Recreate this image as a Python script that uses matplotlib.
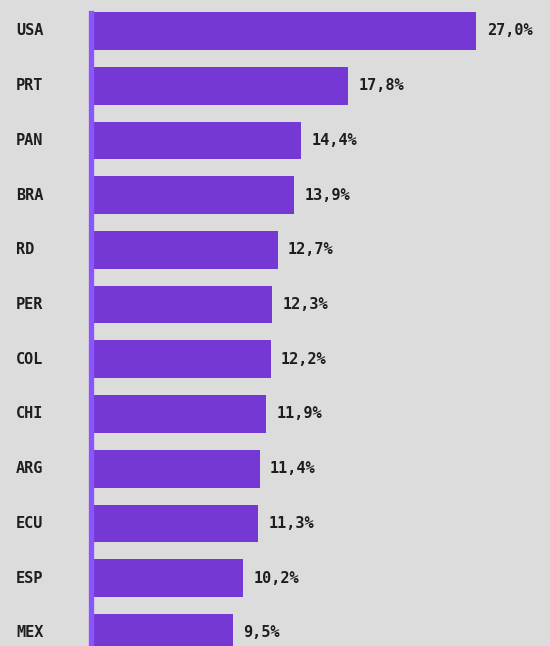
import numpy as np
import matplotlib.pyplot as plt

# Share values by country, top to bottom
countries = ["USA", "PRT", "PAN", "BRA", "RD", "PER", "COL", "CHI", "ARG", "ECU", "ESP", "MEX"]
shares = [27.0, 17.8, 14.4, 13.9, 12.7, 12.3, 12.2, 11.9, 11.4, 11.3, 10.2, 9.5]

BG = "#dcdcdc"
BAR = "#7538d4"
AXIS = "#8a55ff"
INK = "#1e1e1e"
BASE = -0.58  # bars start a little left of zero, at the axis line

fig = plt.figure(figsize=(5.5, 6.46), dpi=100, facecolor=BG)
ax = fig.add_axes([0, 0, 1, 1])
ax.set_facecolor(BG)

ypos = np.arange(len(countries))
ax.barh(ypos, np.array(shares) - BASE, left=BASE, height=0.69, color=BAR, zorder=2)

ax.set_xlim(-7.27, 32.3)
ax.set_ylim(11.24, -0.566)

ax.axvline(BASE - 0.17, ymin=0, ymax=0.98, color=AXIS, lw=3.8, zorder=3)

for y, name, v in zip(ypos, countries, shares):
    ax.text(0.029, y, name, transform=ax.get_yaxis_transform(), ha="left", va="center",
            fontsize=11, fontweight="bold", family="DejaVu Sans Mono", color=INK)
    ax.annotate(f"{v:.1f}".replace(".", ",") + "%", (v, y), xytext=(7.5, 0),
                textcoords="offset points", ha="left", va="center",
                fontsize=11, fontweight="bold", family="DejaVu Sans Mono", color=INK)

ax.axis("off")
fig.savefig("out.png", dpi=100, facecolor=BG)
